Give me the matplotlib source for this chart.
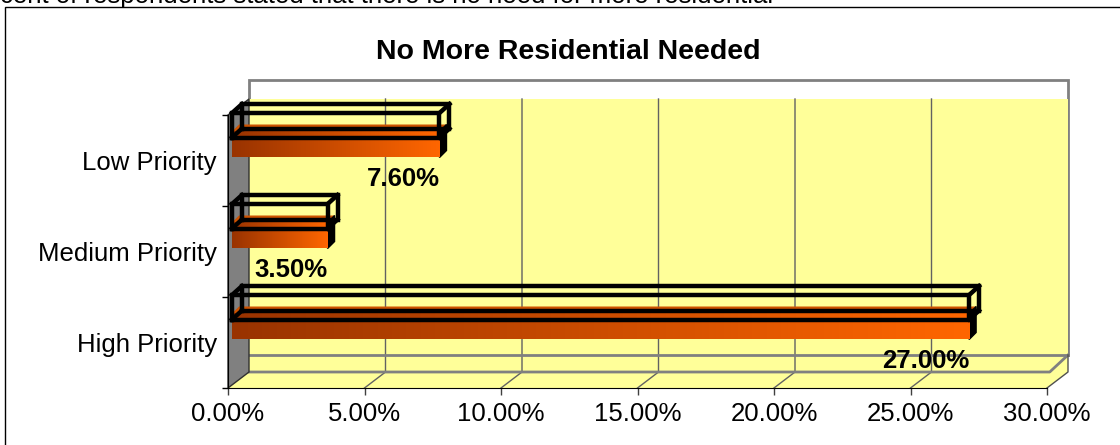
import numpy as np
import matplotlib.pyplot as plt
from matplotlib.colors import LinearSegmentedColormap
from matplotlib.patches import Polygon, Rectangle

plt.rcParams['font.family'] = ['Liberation Sans', 'DejaVu Sans']

categories = ['High Priority', 'Medium Priority', 'Low Priority']
values = [27.0, 3.5, 7.6]
value_labels = ['27.00%', '3.50%', '7.60%']
x_ticks = [0, 5, 10, 15, 20, 25, 30]
x_tick_labels = ['0.00%', '5.00%', '10.00%', '15.00%', '20.00%', '25.00%', '30.00%']
title = 'No More Residential Needed'
caption = 'Percent of respondents stated that there is no need for more residential'

W, H = 1120, 445
fig = plt.figure(figsize=(W / 100, H / 100), dpi=100)

# front edge of the floor is the axes box
L, R, B, T = 228, 1047, 388, 80
ax = fig.add_axes([L / W, (H - B) / H, (R - L) / W, (B - T) / H])
sx = (R - L) / 30.0      # px per percent
sy = 91.0                # px per category
y0 = -0.5
ytop = y0 + (B - T) / sy


def off(dx, dy):
    # screen pixel shift (y down) -> data shift
    return dx / sx, -dy / sy


yellow = '#FFFF99'
grey = '#808080'

# depth of the 3D box
wdx, wdy = off(21, -16)
slab = 17 / sy
wall_bot = y0 + wdy + slab
wall_top = ytop - 19 / sy

# back panel and wall
ax.add_patch(Rectangle((wdx, wall_bot), 30, ytop - wall_bot, facecolor='white',
                       edgecolor=grey, lw=2, zorder=0, clip_on=False))
ax.add_patch(Rectangle((wdx, wall_bot), 30, wall_top - wall_bot, facecolor=yellow,
                       edgecolor='none', zorder=0.5, clip_on=False))
# floor
ax.add_patch(Polygon([(0, y0), (30, y0), (30 + wdx, y0 + wdy), (30 + wdx, wall_bot),
                      (wdx, wall_bot), (wdx, y0 + wdy)], closed=True,
                     facecolor=yellow, edgecolor='none', zorder=0.5, clip_on=False))

# gridlines, wall and across the floor
for t in x_ticks[1:-1]:
    ax.plot([t, t + wdx, t + wdx], [y0, y0 + wdy, wall_top], color='#626262',
            lw=1, zorder=1, clip_on=False)

# floor slab and right edge
ax.plot([wdx, 30 + wdx], [wall_bot, wall_bot], color=grey, lw=2, zorder=1.2, clip_on=False)
ax.plot([wdx, 30 + 0.1, 30 + wdx], [y0 + wdy, y0 + wdy, wall_bot], color=grey, lw=2,
        zorder=1.2, clip_on=False)
ax.plot([30 + wdx, 30 + wdx, 30], [wall_bot, y0 + wdy, y0], color='#505050', lw=1,
        zorder=1.2, clip_on=False)

# left side wall
ax.add_patch(Polygon([(0, 2.5), (wdx, wall_top), (wdx, y0 + wdy), (0, y0)], closed=True,
                     facecolor=grey, edgecolor='#303030', lw=1, zorder=1.5, clip_on=False))

# bars
cmap = LinearSegmentedColormap.from_list('rust', ['#993300', '#FF6600'])
grad = np.linspace(0, 1, 256).reshape(1, -1)
bdx = 4 / sx
odx, ody = off(7, -7)
hdx, hdy = off(10, -9)
for c, v in enumerate(values):
    x0, x1 = bdx, bdx + v
    yb, yt = c + 3 / sy, c + 29 / sy
    # top and side faces of the solid bar
    ax.add_patch(Polygon([(x0, yt), (x1, yt), (x1 + odx, yt + ody), (x0 + odx, yt + ody)],
                         closed=True, facecolor='#CC5200', edgecolor='none', zorder=2.8))
    ax.add_patch(Polygon([(x1, yb), (x1, yt), (x1 + odx, yt + ody), (x1 + odx, yb + ody)],
                         closed=True, facecolor='black', edgecolor='black', lw=1, zorder=2.8))
    ax.imshow(grad, extent=[x0, x1, yb, yt], aspect='auto', cmap=cmap,
              interpolation='bilinear', zorder=3)

    # hollow box drawn as a wireframe
    hb, ht = c + 23 / sy, c + 47.5 / sy
    front = [(x0, hb), (x1, hb), (x1, ht), (x0, ht), (x0, hb)]
    back = [(x + hdx, y + hdy) for x, y in front]
    kw = dict(color='black', lw=3.2, zorder=4, solid_capstyle='projecting',
              solid_joinstyle='miter')
    ax.plot(*zip(*back), **kw)
    ax.plot(*zip(*front), **kw)
    for (fx, fy), (bx, by) in zip(front[:4], back[:4]):
        ax.plot([fx, bx], [fy, by], **kw)

    ax.text(x1, c - 0.2, value_labels[c], ha='right', va='center', fontsize=18.5,
            fontweight='bold', zorder=6)

ax.set_xlim(0, 30)
ax.set_ylim(y0, ytop)
ax.patch.set_visible(False)
for s in ['top', 'right']:
    ax.spines[s].set_visible(False)
ax.spines['left'].set_bounds(-0.5, 2.5)
ax.spines['left'].set_zorder(2)
ax.spines['bottom'].set_zorder(2)

ax.set_xticks(x_ticks, x_tick_labels)
ax.set_yticks(range(len(categories)), categories)
ax.set_yticks([-0.5, 0.5, 1.5, 2.5], minor=True)
ax.tick_params(axis='x', length=5, width=1, pad=5, labelsize=18.5, color='#404040')
ax.tick_params(axis='y', which='major', length=0, pad=8, labelsize=18.5)
ax.tick_params(axis='y', which='minor', length=4.5, width=1)

fig.text(568 / W, 1 - 52 / H, title, ha='center', va='center', fontsize=20.5,
         fontweight='bold')
fig.text(-40 / W, 1 - 3 / H, caption, ha='left', va='baseline', fontsize=18.5)
fig.add_artist(Rectangle((5 / W, -0.05), 1.2, 1 - 7 / H + 0.05, transform=fig.transFigure,
                         fill=False, edgecolor='black', lw=1))

fig.savefig('out.png', dpi=100)
